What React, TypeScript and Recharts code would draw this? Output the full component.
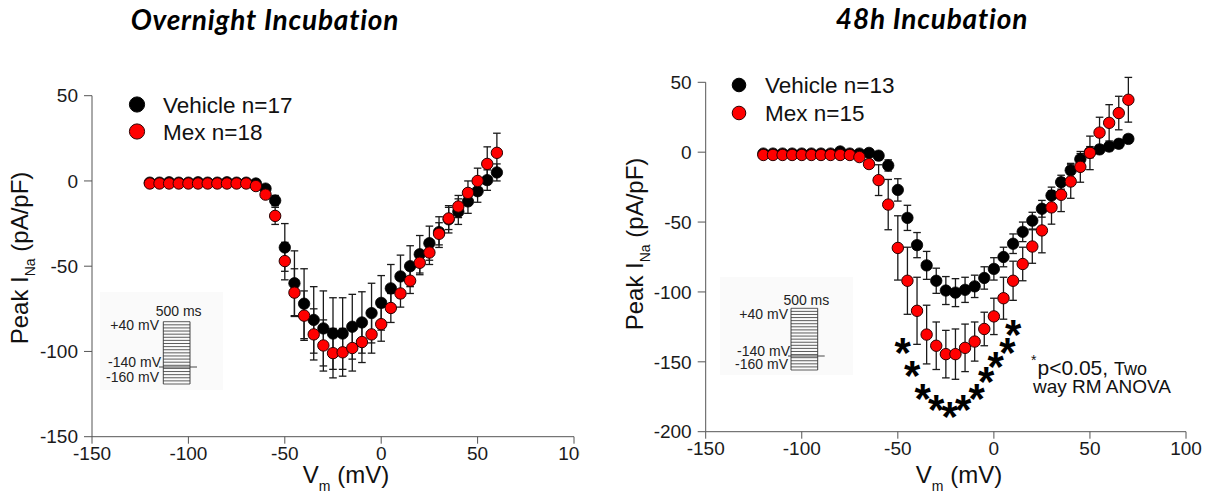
import { ScatterChart, Scatter, XAxis, YAxis, ErrorBar } from "recharts";

const FONT = "'Liberation Sans', Arial, Helvetica, sans-serif";
const TITLE_FONT = "Lato, 'Open Sans', sans-serif";

// overnight incubation, test potentials (mV)
const stepsOvernight = [
  -120, -115, -110, -105, -100, -95, -90, -85, -80, -75, -70, -65, -60, -55, -50, -45, -40, -35, -30,
  -25, -20, -15, -10, -5, 0, 5, 10, 15, 20, 25, 30, 35, 40, 45, 50, 55, 60,
];
const vehicleOvernight = [
  -1, -1, -0.8, -1, -1, -0.8, -1, -1, -0.8, -1, -1, -1.5, -4.5, -11.5, -39, -60, -72, -81.5, -86.5,
  -89.5, -89.5, -85.5, -83, -77.5, -71.5, -63, -56, -50, -43, -36.5, -30, -22.5, -18, -12, -6, 0.5, 5,
];
const vehicleOvernightSem = [
  0.5, 0.5, 0.5, 0.5, 0.5, 0.5, 0.5, 0.5, 0.5, 0.5, 0.5, 1, 1.5, 3, 14, 19, 20.5, 19.5, 22,
  21, 21, 19, 18, 17.5, 16, 14, 12.5, 12, 11, 10, 9, 8, 7.5, 7, 6.5, 6, 5,
];
const mexOvernight = [
  -1.5, -1.5, -1.5, -1.5, -1.5, -1.5, -1.5, -1.5, -1.5, -1.5, -1.5, -3, -8, -20.5, -47, -65.5, -79, -90, -96.5,
  -101, -100.5, -98, -94.5, -90, -84, -74.5, -66, -58.5, -48, -42, -31, -22, -15, -7, 0, 10, 16.5,
];
const mexOvernightSem = [
  0.5, 0.5, 0.5, 0.5, 0.5, 0.5, 0.5, 0.5, 0.5, 0.5, 0.5, 1, 2, 5, 11, 14, 14.5, 15, 15,
  14.5, 14, 13.5, 12, 11, 10, 8.5, 8, 7.5, 7, 7, 6.5, 6.5, 6.5, 7, 7.5, 10, 11.5,
];

// 48 h incubation
const steps48h = [
  -120, -115, -110, -105, -100, -95, -90, -85, -80, -75, -70, -65, -60, -55, -50, -45, -40, -35, -30,
  -25, -20, -15, -10, -5, 0, 5, 10, 15, 20, 25, 30, 35, 40, 45, 50, 55, 60, 65, 70,
];
const vehicle48h = [
  -1, -1, -1, -1, -1, -1, -1, -1, 0.5, -1, -1, -0.5, -2.5, -9.5, -27, -47, -66.5, -81, -92,
  -99, -100.5, -98.5, -96, -90, -83.5, -75, -65.5, -57, -49, -40.5, -31, -21.5, -13, -5, 0, 2, 4, 6, 9.5,
];
const vehicle48hSem = [
  0.5, 0.5, 0.5, 0.5, 0.5, 0.5, 0.5, 0.5, 0.5, 0.5, 0.5, 0.5, 3, 4, 8, 9, 9, 10, 9,
  10, 10, 9, 8, 8, 8, 7, 7, 7, 6, 6, 6, 5, 5, 4, 4, 3, 3, 3, 3,
];
const mex48h = [
  -2, -2, -2, -2, -2, -2, -2, -2, -2, -2, -3.5, -8.5, -20, -37.5, -68.5, -92, -113.5, -130.5, -138.5,
  -144.5, -144.5, -140, -135.5, -126.5, -117.5, -104.5, -92, -80, -67.5, -56, -39.5, -30.5, -21, -10.5, -0.5, 14, 21, 28, 37.5,
];
const mex48hSem = [
  0.5, 0.5, 0.5, 0.5, 0.5, 0.5, 0.5, 0.5, 0.5, 0.5, 0.5, 3, 11, 18, 23, 24, 24, 21, 17,
  17, 18, 17, 14, 12, 13, 15, 14, 12, 12, 16, 12, 12, 12, 11, 12, 11, 13, 12, 16,
];

// significance markers (p<0.05) below the Mex curve
const starV = [-47.5, -42.5, -37, -30, -23, -16, -9, -4, 1, 7, 10];
const starI = [-137, -153, -169.5, -178, -182.5, -178, -169.5, -157.5, -147, -137, -124];

const xTicks = [-150, -100, -50, 0, 50, 100];
const yTicksOvernight = [-150, -100, -50, 0, 50];
const yTicks48h = [-200, -150, -100, -50, 0, 50];

const rows = (v: number[], i: number[], e: number[]) =>
  v.map((x, k) => ({ v: x, i: i[k], e: e[k] }));

const blackDot = (p: any) => (
  <circle cx={p.cx} cy={p.cy} r={5.7} fill="#000" stroke="#000" strokeWidth={0.8} />
);
const redDot = (p: any) => (
  <circle cx={p.cx} cy={p.cy} r={5.7} fill="#ff0000" stroke="#2b0000" strokeWidth={1} />
);
const star = (p: any) => (
  <text x={p.cx} y={p.cy} dy="0.56em" textAnchor="middle" fontFamily={FONT} fontWeight={700} fontSize={42} fill="#000">
    *
  </text>
);

const axisStroke = "#555";
const tickStyle = { fill: "#1a1a1a", fontSize: 19, fontFamily: FONT };
const barProps = { dataKey: "e", direction: "y" as const, width: 3.8, stroke: "#1a1a1a", strokeWidth: 1.3 };

function Protocol({ x, y, w, h, lx, labelY }: { x: number; y: number; w: number; h: number; lx: number; labelY: number[] }) {
  const n = 21;
  const lines = Array.from({ length: n }, (_, k) => y + (k * h) / (n - 1));
  return (
    <g fontFamily={FONT} fontSize={14} fill="#222">
      {lines.map((ly, k) => (
        <line key={k} x1={x} x2={x + w} y1={ly} y2={ly} stroke="#333" strokeWidth={0.8} />
      ))}
      <line x1={x} x2={x} y1={y} y2={y + h} stroke="#333" strokeWidth={0.9} />
      <line x1={x + w} x2={x + w} y1={y} y2={y + h} stroke="#333" strokeWidth={0.9} />
      <text x={x + w / 2 + 2} y={labelY[0]} textAnchor="middle">500 ms</text>
      <text x={lx} y={labelY[1]} textAnchor="end">+40 mV</text>
      <text x={lx + 2} y={labelY[2]} textAnchor="end">-140 mV</text>
      <line x1={lx} x2={x + w + 7} y1={labelY[2] + 0.5} y2={labelY[2] + 0.5} stroke="#333" strokeWidth={0.9} />
      <text x={lx} y={labelY[3]} textAnchor="end">-160 mV</text>
    </g>
  );
}

function YTitle({ x, y }: { x: number; y: number }) {
  return (
    <text transform={`translate(${x},${y}) rotate(-90)`} textAnchor="middle" fontFamily={FONT} fontSize={24} fill="#111">
      Peak I<tspan fontSize={14} dy={7}>Na</tspan>
      <tspan dy={-7}> (pA/pF)</tspan>
    </text>
  );
}

function XTitle({ x, y }: { x: number; y: number }) {
  return (
    <text x={x} y={y} textAnchor="middle" fontFamily={FONT} fontSize={24} fill="#111">
      V<tspan fontSize={14} dy={8}>m</tspan>
      <tspan dy={-8}> (mV)</tspan>
    </text>
  );
}

function LegendRow({ x, y, color, label, r }: { x: number; y: number; color: string; label: string; r: number }) {
  return (
    <g>
      <circle cx={x} cy={y} r={r} fill={color} stroke={color === "#000" ? "#000" : "#2b0000"} strokeWidth={1} />
      <text x={x + 26} y={y + 8} fontFamily={FONT} fontSize={22.5} fill="#111">
        {label}
      </text>
    </g>
  );
}

export default function App() {
  const dataVehON = rows(stepsOvernight, vehicleOvernight, vehicleOvernightSem);
  const dataMexON = rows(stepsOvernight, mexOvernight, mexOvernightSem);
  const dataVeh48 = rows(steps48h, vehicle48h, vehicle48hSem);
  const dataMex48 = rows(steps48h, mex48h, mex48hSem);
  const dataStars = starV.map((v, k) => ({ v, i: starI[k] }));

  return (
    <div style={{ position: "absolute", left: 0, top: 0, width: 1211, height: 495, background: "#fff", fontFamily: FONT }}>
      <div style={{ position: "absolute", left: 0, top: 0, width: 580, height: 495, overflow: "hidden" }}>
        <ScatterChart width={600} height={495} margin={{ top: 95.7, right: 26, bottom: 28.3, left: 32 }}>
          <XAxis
            type="number"
            dataKey="v"
            domain={[-150, 100]}
            ticks={xTicks}
            allowDataOverflow
            height={30}
            tickSize={7}
            tickMargin={3}
            stroke={axisStroke}
            tick={tickStyle}
          />
          <YAxis
            type="number"
            dataKey="i"
            domain={[-150, 50]}
            ticks={yTicksOvernight}
            allowDataOverflow
            width={60}
            tickSize={8}
            tickMargin={6}
            stroke={axisStroke}
            tick={tickStyle}
          />
          <Scatter data={dataVehON} shape={blackDot} isAnimationActive={false}>
            <ErrorBar {...barProps} />
          </Scatter>
          <Scatter data={dataMexON} shape={redDot} isAnimationActive={false}>
            <ErrorBar {...barProps} />
          </Scatter>
        </ScatterChart>
      </div>

      <div style={{ position: "absolute", left: 620, top: 0, width: 591, height: 495 }}>
        <ScatterChart width={591} height={495} margin={{ top: 82.3, right: 25, bottom: 33.3, left: 30.7 }}>
          <XAxis
            type="number"
            dataKey="v"
            domain={[-150, 100]}
            ticks={xTicks}
            allowDataOverflow
            height={30}
            tickSize={7}
            tickMargin={3}
            stroke={axisStroke}
            tick={tickStyle}
          />
          <YAxis
            type="number"
            dataKey="i"
            domain={[-200, 50]}
            ticks={yTicks48h}
            allowDataOverflow
            width={55}
            tickSize={8}
            tickMargin={6}
            stroke={axisStroke}
            tick={tickStyle}
          />
          <Scatter data={dataVeh48} shape={blackDot} isAnimationActive={false}>
            <ErrorBar {...barProps} />
          </Scatter>
          <Scatter data={dataMex48} shape={redDot} isAnimationActive={false}>
            <ErrorBar {...barProps} />
          </Scatter>
          <Scatter data={dataStars} shape={star} isAnimationActive={false} />
        </ScatterChart>
      </div>

      <svg width={1211} height={495} style={{ position: "absolute", left: 0, top: 0, pointerEvents: "none" }}>
        <g fontFamily={TITLE_FONT} fontWeight={700} fontStyle="italic" fontSize={28} letterSpacing={0.8} fill="#000">
          <text x={265} y={30} textAnchor="middle">Overnight Incubation</text>
          <text x={932} y={29} textAnchor="middle">48h Incubation</text>
        </g>

        <YTitle x={28} y={258} />
        <XTitle x={346} y={483} />
        <YTitle x={643} y={244} />
        <XTitle x={959} y={483} />

        <LegendRow x={137} y={104.5} r={7.6} color="#000" label="Vehicle n=17" />
        <LegendRow x={137} y={131.5} r={7.6} color="#ff0000" label="Mex n=18" />
        <LegendRow x={739} y={85} r={6.8} color="#000" label="Vehicle n=13" />
        <LegendRow x={739} y={113} r={6.8} color="#ff0000" label="Mex n=15" />

        <rect x={100} y={292} width={123} height={98} fill="#fafafa" />
        <Protocol x={163.3} y={321.7} w={26.7} h={62.3} lx={159} labelY={[316, 330, 366.5, 382]} />
        <rect x={720} y={277} width={133} height={98} fill="#fafafa" />
        <Protocol x={791} y={308.3} w={26.7} h={61.7} lx={788} labelY={[305, 318.5, 355.5, 368.5]} />

        <g fontFamily={FONT} fill="#111">
          <text x={1031} y={375} fontSize={21}>
            <tspan fontSize={14} dy={-10}>*</tspan>
            <tspan dx={1} dy={10}>p&lt;0.05, </tspan>
            <tspan fontSize={18}>Two</tspan>
          </text>
          <text x={1033} y={393} fontSize={19}>way RM ANOVA</text>
        </g>
      </svg>
    </div>
  );
}
